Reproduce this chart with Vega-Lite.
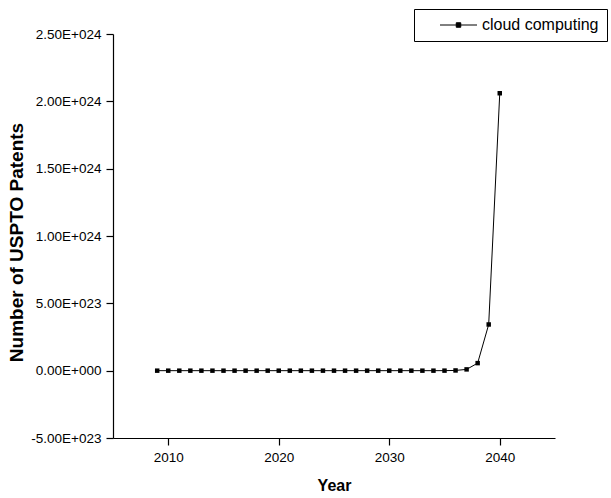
{
  "$schema": "https://vega.github.io/schema/vega-lite/v6.json",
  "autosize": "none",
  "width": 442,
  "height": 404,
  "padding": {"left": 113, "top": 34, "right": 56, "bottom": 60},
  "background": "white",
  "config": {
    "font": "Liberation Sans",
    "view": {"stroke": null},
    "axis": {"grid": false, "domainColor": "black", "tickColor": "black", "labelColor": "black", "titleColor": "black", "labelFontSize": 13.5, "titleFontWeight": "bold", "tickSize": 7, "domainWidth": 1.2, "tickWidth": 1.2, "labelFont": "Liberation Sans", "titleFont": "Liberation Sans"}
  },
  "data": {
    "values": [
      {"year": 2009, "patents": 2, "series": "cloud computing"},
      {"year": 2010, "patents": 9, "series": "cloud computing"},
      {"year": 2011, "patents": 56, "series": "cloud computing"},
      {"year": 2012, "patents": 3.3e2, "series": "cloud computing"},
      {"year": 2013, "patents": 2.0e3, "series": "cloud computing"},
      {"year": 2014, "patents": 1.2e4, "series": "cloud computing"},
      {"year": 2015, "patents": 7.2e4, "series": "cloud computing"},
      {"year": 2016, "patents": 4.3e5, "series": "cloud computing"},
      {"year": 2017, "patents": 2.6e6, "series": "cloud computing"},
      {"year": 2018, "patents": 1.5e7, "series": "cloud computing"},
      {"year": 2019, "patents": 9.3e7, "series": "cloud computing"},
      {"year": 2020, "patents": 5.6e8, "series": "cloud computing"},
      {"year": 2021, "patents": 3.3e9, "series": "cloud computing"},
      {"year": 2022, "patents": 2.0e10, "series": "cloud computing"},
      {"year": 2023, "patents": 1.2e11, "series": "cloud computing"},
      {"year": 2024, "patents": 7.2e11, "series": "cloud computing"},
      {"year": 2025, "patents": 4.3e12, "series": "cloud computing"},
      {"year": 2026, "patents": 2.6e13, "series": "cloud computing"},
      {"year": 2027, "patents": 1.6e14, "series": "cloud computing"},
      {"year": 2028, "patents": 9.4e14, "series": "cloud computing"},
      {"year": 2029, "patents": 5.6e15, "series": "cloud computing"},
      {"year": 2030, "patents": 3.4e16, "series": "cloud computing"},
      {"year": 2031, "patents": 2.0e17, "series": "cloud computing"},
      {"year": 2032, "patents": 1.2e18, "series": "cloud computing"},
      {"year": 2033, "patents": 7.3e18, "series": "cloud computing"},
      {"year": 2034, "patents": 4.4e19, "series": "cloud computing"},
      {"year": 2035, "patents": 2.6e20, "series": "cloud computing"},
      {"year": 2036, "patents": 1.6e21, "series": "cloud computing"},
      {"year": 2037, "patents": 9.5e21, "series": "cloud computing"},
      {"year": 2038, "patents": 5.6e22, "series": "cloud computing"},
      {"year": 2039, "patents": 3.43e23, "series": "cloud computing"},
      {"year": 2040, "patents": 2.06e24, "series": "cloud computing"}
    ]
  },
  "mark": {"type": "line", "color": "black", "strokeWidth": 1, "point": {"shape": "square", "filled": true, "size": 20, "color": "black"}},
  "encoding": {
    "x": {"field": "year", "type": "quantitative", "title": "Year", "scale": {"domain": [2005, 2045], "nice": false, "zero": false}, "axis": {"values": [2010, 2020, 2030, 2040], "format": "d", "labelPadding": 5, "titlePadding": 14, "titleFontSize": 16}},
    "y": {"field": "patents", "type": "quantitative", "title": "Number of USPTO Patents", "scale": {"domain": [-5e23, 2.5e24], "nice": false, "zero": false}, "axis": {"values": [-5e23, 0, 5e23, 1e24, 1.5e24, 2e24, 2.5e24], "labelExpr": "datum.value == 0 ? '0.00E+000' : replace(replace(upper(format(datum.value, '.2e')), 'E+', 'E+0'), '\u2212', '-')", "labelPadding": 5, "titlePadding": 4, "titleFontSize": 19, "titleY": 208}},
    "color": {"field": "series", "type": "nominal", "title": null, "scale": {"range": ["black"]}, "legend": {"orient": "none", "legendX": 301, "legendY": -25, "strokeColor": "black", "fillColor": "white", "padding": 8, "symbolOffset": 28.5, "symbolType": "M-3.7,0H3.7M-0.45,-0.45H0.45V0.45H-0.45Z", "symbolSize": 100, "symbolStrokeWidth": 1, "symbolStrokeColor": "black", "symbolFillColor": "black", "labelFontSize": 16, "labelFont": "Liberation Sans", "labelColor": "black", "labelOffset": 15.5}}
  }
}
